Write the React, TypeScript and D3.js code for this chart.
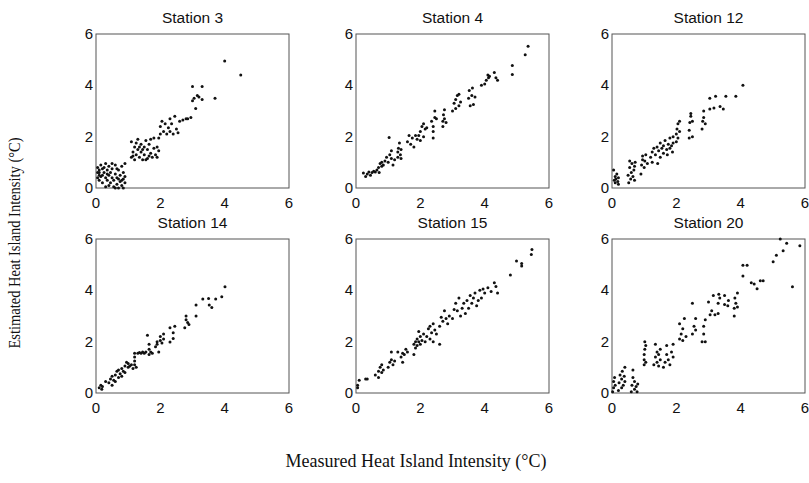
import React from "react";
import * as d3 from "d3";

const stationNames = ["Station 3", "Station 4", "Station 12", "Station 14", "Station 15", "Station 20"];
const tickValues = [0, 2, 4, 6];
const xAxisLabel = "Measured Heat Island Intensity (°C)";
const yAxisLabel = "Estimated Heat Island Intensity (°C)";

const station3: [number, number][] = [
  [0.05,0.4],[0.05,0.6],[0.05,0.8],[0.1,0.3],[0.1,0.5],[0.1,0.7],[0.15,0.9],[0.2,0.5],[0.2,0.2],[0.25,0.6],[0.25,0.8],[0.3,0.4],[0.3,0.95],[0.35,0.7],[0.35,0.3],[0.4,0.5],[0.4,0.1],[0.4,0.85],[0.45,0.6],[0.45,0.2],[0.5,0.4],[0.5,0.75],[0.55,0.05],[0.55,0.3],[0.6,0.55],[0.6,0.9],[0.65,0.15],[0.65,0.4],[0.7,0.7],[0.7,0.0],[0.75,0.25],[0.75,0.5],[0.8,0.85],[0.8,0.1],[0.85,0.35],[0.85,0.6],[0.9,0.2],[0.9,0.45],[0.9,0.95],[0.3,0.05],[0.15,0.45],[0.6,0.0],[0.7,0.35],[0.5,0.95],[0.2,0.75],[0.1,0.6],[0.35,0.55],[0.8,0.3],[0.85,0.0],[0.65,0.75],
  [1.1,1.8],[1.1,1.2],[1.15,1.4],[1.2,1.1],[1.2,1.6],[1.25,1.3],[1.3,1.9],[1.3,1.5],[1.35,1.2],[1.4,1.7],[1.4,1.4],[1.45,1.1],[1.5,1.6],[1.5,1.3],[1.55,1.85],[1.6,1.5],[1.6,1.15],[1.65,1.7],[1.7,1.35],[1.7,1.9],[1.75,1.2],[1.8,1.55],[1.85,1.3],[1.9,1.2],[1.9,1.6],[1.95,1.45],[1.95,1.95],[1.25,1.75],[1.45,1.5],[1.55,1.1],[1.15,1.25],[1.35,1.6],[1.65,1.25],[1.8,1.95],
  [2.0,2.1],[2.0,2.4],[2.05,2.6],[2.1,2.2],[2.15,2.5],[2.2,2.1],[2.25,2.35],[2.3,2.7],[2.3,2.2],[2.35,2.5],[2.4,2.1],[2.45,2.8],[2.5,2.3],[2.55,2.15],[2.6,2.6],
  [2.7,2.65],[2.8,2.7],[2.85,2.7],[2.95,2.75],
  [3.0,3.95],[3.0,3.4],[3.05,3.5],[3.1,3.1],[3.15,3.6],[3.2,3.55],[3.3,3.95],[3.3,3.45],
  [3.7,3.5],[4.0,4.95],[4.5,4.4]
];

const station4: [number, number][] = [
  [0.23,0.58],[0.3,0.45],[0.35,0.55],[0.4,0.62],[0.45,0.5],[0.5,0.6],[0.55,0.65],[0.6,0.62],[0.65,0.7],[0.7,0.8],[0.72,0.6],[0.75,0.95],[0.8,0.85],[0.8,1.0],[0.85,0.9],[0.9,1.05],[0.95,1.2],[1.0,1.0],[1.03,1.97],[1.05,1.3],[1.1,1.15],[1.1,1.45],[1.15,0.9],[1.2,1.1],
  [1.3,1.2],[1.3,1.4],[1.32,1.55],[1.35,1.75],[1.38,1.3],[1.4,1.5],[1.4,1.15],
  [1.6,1.8],[1.65,2.05],[1.7,1.7],[1.75,1.95],[1.8,1.6],[1.85,2.05],[1.9,1.9],[1.95,2.05],[2.0,2.2],[2.0,1.85],[2.05,2.4],[2.1,2.5],[2.1,2.0],[2.15,2.3],[2.2,2.35],
  [2.35,2.6],[2.4,1.95],[2.4,2.2],[2.4,2.4],[2.45,2.75],[2.45,3.0],[2.5,2.7],
  [2.7,2.4],[2.7,2.6],[2.72,2.85],[2.75,2.7],[2.75,3.05],[2.8,2.55],
  [3.0,3.0],[3.05,3.3],[3.1,3.1],[3.1,3.45],[3.15,3.6],[3.2,3.2],[3.2,3.65],[3.25,3.35],
  [3.5,3.5],[3.52,3.8],[3.55,3.2],[3.6,3.6],[3.62,3.9],[3.65,3.25],[3.7,3.55],
  [3.9,4.0],[4.0,4.05],[4.05,4.2],[4.1,4.4],[4.12,4.3],[4.15,4.35],
  [4.3,4.5],[4.35,4.3],[4.4,4.2],[4.86,4.77],[4.86,4.42],[5.26,5.19],[5.35,5.52]
];

const station12: [number, number][] = [
  [0.05,0.7],[0.07,0.3],[0.1,0.45],[0.1,0.2],[0.12,0.35],[0.15,0.55],[0.18,0.25],[0.2,0.4],[0.2,0.15],
  [0.5,0.5],[0.52,0.2],[0.55,0.8],[0.55,1.05],[0.58,0.35],[0.6,0.6],[0.62,0.95],[0.65,0.45],[0.68,0.7],[0.7,0.3],[0.7,0.85],[0.72,1.0],
  [0.9,0.55],[0.92,0.9],[0.95,1.1],[0.95,1.25],[1.0,0.8],[1.02,1.05],[1.05,1.3],[1.1,0.95],
  [1.2,1.2],[1.25,1.4],[1.25,1.0],[1.3,1.55],[1.35,1.3],[1.4,1.6],[1.42,0.95],[1.45,1.45],[1.5,1.2],[1.5,1.75],[1.55,1.55],[1.6,1.35],[1.6,1.65],[1.65,1.85],[1.7,1.5],[1.72,1.3],[1.75,1.7],[1.8,1.55],[1.8,1.95],[1.85,1.65],[1.88,1.4],[1.9,1.75],[1.9,2.0],
  [2.0,1.8],[2.0,2.1],[2.02,2.3],[2.05,2.5],[2.05,1.95],[2.1,2.6],[2.1,2.2],
  [2.4,1.95],[2.4,2.25],[2.42,2.55],[2.45,2.8],[2.45,2.9],[2.5,2.6],[2.5,2.0],
  [2.8,2.3],[2.82,2.6],[2.85,2.75],[2.85,3.0],[2.9,2.5],
  [3.04,3.5],[3.22,3.57],[3.54,3.57],[3.85,3.57],[4.07,4.0],[3.04,3.08],[3.17,3.12],[3.36,3.18],[3.46,3.08]
];

const station14: [number, number][] = [
  [0.1,0.2],[0.15,0.3],[0.18,0.15],[0.2,0.25],[0.3,0.45],[0.4,0.4],[0.45,0.55],[0.5,0.3],[0.5,0.65],[0.55,0.5],[0.6,0.7],[0.6,0.45],[0.65,0.85],[0.7,0.6],[0.7,0.9],[0.75,0.75],[0.8,0.95],[0.8,0.65],[0.85,0.85],[0.9,1.05],[0.9,0.8],[0.95,1.2],[1.0,1.0],[1.0,1.15],[1.05,1.05],[1.1,1.1],[1.15,0.95],
  [1.2,1.1],[1.2,1.25],[1.2,1.4],[1.2,1.55],[1.25,1.0],[1.3,1.55],[1.35,1.58],[1.4,1.55],[1.45,1.6],[1.5,1.55],[1.55,1.6],
  [1.6,2.25],[1.65,1.5],[1.65,1.7],[1.65,1.9],[1.7,1.6],[1.75,1.55],
  [1.85,1.8],[1.9,2.0],[1.9,1.9],[1.95,1.6],[2.0,2.05],[2.0,2.2],[2.05,1.95],[2.1,2.3],[2.1,2.1],
  [2.3,2.54],[2.45,2.6],[2.3,1.99],[2.4,2.12],[2.4,2.35],
  [2.8,3.0],[2.76,2.54],[2.89,2.67],[2.8,2.85],[2.85,2.75],
  [3.11,3.43],[3.11,3.0],[3.32,3.66],[3.5,3.68],[3.52,3.43],[3.6,3.33],[3.72,3.66],[3.91,3.75],[4.01,4.14]
];

const station15: [number, number][] = [
  [0.05,0.2],[0.05,0.3],[0.1,0.5],[0.3,0.55],[0.35,0.55],[0.6,0.7],[0.7,0.6],[0.7,0.85],[0.75,1.0],[0.8,0.8],[0.8,1.1],[0.85,0.9],
  [1.0,1.0],[1.05,1.2],[1.1,1.6],[1.1,1.3],[1.15,1.1],[1.2,1.25],
  [1.3,1.6],[1.4,1.4],[1.45,1.2],[1.45,1.55],[1.5,1.5],[1.55,1.7],[1.6,1.6],
  [1.8,1.5],[1.8,1.9],[1.85,2.0],[1.85,1.75],[1.9,2.1],[1.9,1.85],[1.95,2.4],[1.95,2.0],[2.0,1.9],[2.0,2.2],[2.05,2.05],
  [2.1,2.3],[2.15,2.0],[2.2,2.2],[2.25,2.5],[2.3,2.1],[2.3,2.6],[2.35,2.35],[2.4,2.7],[2.4,2.0],[2.45,2.45],[2.5,2.3],
  [2.6,1.9],[2.6,2.6],[2.65,2.95],[2.7,2.8],[2.75,3.2],[2.8,2.9],[2.85,2.7],[2.9,3.0],
  [3.0,2.9],[3.05,3.25],[3.1,3.5],[3.15,3.2],[3.2,3.7],[3.25,3.0],[3.3,3.3],[3.35,3.5],[3.4,3.1],[3.45,3.6],[3.5,3.3],
  [3.55,3.8],[3.6,3.5],[3.65,3.7],[3.7,3.9],[3.75,3.4],[3.8,3.6],[3.85,4.0],[3.9,3.7],
  [3.95,4.05],[4.0,3.9],[4.1,4.1],[4.2,3.95],[4.3,4.3],[4.35,4.15],[4.4,3.9],
  [4.8,4.6],[4.99,5.14],[5.15,4.95],[5.15,5.05],[5.45,5.4],[5.47,5.59]
];

const station20: [number, number][] = [
  [0.02,0.05],[0.05,0.2],[0.05,0.45],[0.08,0.6],[0.1,0.3],
  [0.2,0.1],[0.22,0.4],[0.25,0.7],[0.3,0.2],[0.3,0.55],[0.32,0.85],[0.35,0.3],[0.38,0.65],[0.4,1.0],[0.4,0.45],
  [0.6,0.05],[0.62,0.3],[0.65,0.6],[0.65,0.9],[0.7,0.15],[0.7,0.45],[0.75,0.25],[0.78,0.05],[0.8,0.35],
  [1.0,1.1],[1.0,1.3],[1.0,1.5],[1.02,1.7],[1.02,2.0],[1.05,1.2],[1.05,1.85],
  [1.3,1.1],[1.35,1.4],[1.35,1.9],[1.4,1.2],[1.4,1.6],[1.45,1.05],[1.45,1.5],[1.5,1.3],[1.5,1.7],
  [1.6,1.0],[1.65,1.2],[1.7,1.5],[1.7,1.85],[1.75,1.3],[1.8,1.1],[1.85,1.6],[1.9,1.4],[1.9,1.9],
  [2.1,2.1],[2.1,2.7],[2.15,2.3],[2.2,2.05],[2.2,2.5],[2.25,2.9],[2.3,2.2],
  [2.5,3.5],[2.5,2.3],[2.55,2.6],[2.6,2.9],[2.6,2.45],
  [2.8,2.0],[2.85,2.3],[2.85,2.6],[2.9,2.85],[2.9,2.0],
  [3.0,3.55],[3.05,3.05],[3.1,3.2],[3.15,3.8],[3.2,3.05],
  [3.3,3.1],[3.3,3.5],[3.32,3.85],[3.35,3.7],
  [3.5,3.8],[3.5,3.45],[3.6,3.4],[3.62,3.6],
  [3.8,3.0],[3.8,3.3],[3.82,3.7],[3.85,3.5],[3.9,3.9],[3.9,3.35],
  [4.07,4.56],[4.07,4.98],[4.2,4.98],[4.33,4.3],[4.42,4.25],[4.51,4.06],[4.61,4.37],[4.7,4.37],
  [5.01,5.11],[5.11,5.37],[5.23,6.0],[5.32,5.54],[5.43,5.83],[5.61,4.14],[5.84,5.74]
];

const stationData = [station3, station4, station12, station14, station15, station20];

const colLefts = [96, 356, 612];
const rowTops = [34, 239];
const panelW = 193;
const panelH = 154;

function Panel({ idx }: { idx: number }) {
  const left = colLefts[idx % 3];
  const top = rowTops[Math.floor(idx / 3)];
  const x = d3.scaleLinear().domain([0, 6]).range([left, left + panelW]);
  const y = d3.scaleLinear().domain([0, 6]).range([top + panelH, top]);
  const data = stationData[idx];
  return (
    <g>
      <text x={left + panelW / 2} y={top - 11} textAnchor="middle" fontFamily="Liberation Sans, Arial, sans-serif" fontSize={15.5} fill="#111">
        {stationNames[idx]}
      </text>
      <rect x={left} y={top} width={panelW} height={panelH} fill="none" stroke="#555" strokeWidth={1} />
      {tickValues.map((t) => (
        <text key={"x" + t} x={x(t)} y={top + panelH + 20} textAnchor="middle" fontFamily="Liberation Sans, Arial, sans-serif" fontSize={15} fill="#111">
          {t}
        </text>
      ))}
      {tickValues.map((t) => (
        <text key={"y" + t} x={left - 3} y={y(t) + 5} textAnchor="end" fontFamily="Liberation Sans, Arial, sans-serif" fontSize={15} fill="#111">
          {t}
        </text>
      ))}
      {data.map((d, i) => (
        <circle key={i} cx={x(d[0])} cy={y(d[1])} r={1.5} fill="#111" />
      ))}
    </g>
  );
}

export default function App() {
  return (
    <svg width={809} height={483} style={{ position: "absolute", left: 0, top: 0, background: "#fff" }}>
      <rect x={0} y={0} width={809} height={483} fill="#fff" />
      {stationNames.map((_, i) => (
        <Panel key={i} idx={i} />
      ))}
      <text x={416} y={467} textAnchor="middle" fontFamily="Liberation Serif, Times New Roman, serif" fontSize={18} fill="#111">
        {xAxisLabel}
      </text>
      <text transform="translate(20,243) scale(1.2,1) rotate(-90)" textAnchor="middle" fontFamily="Liberation Serif, Times New Roman, serif" fontSize={14.5} fill="#111">
        {yAxisLabel}
      </text>
    </svg>
  );
}
